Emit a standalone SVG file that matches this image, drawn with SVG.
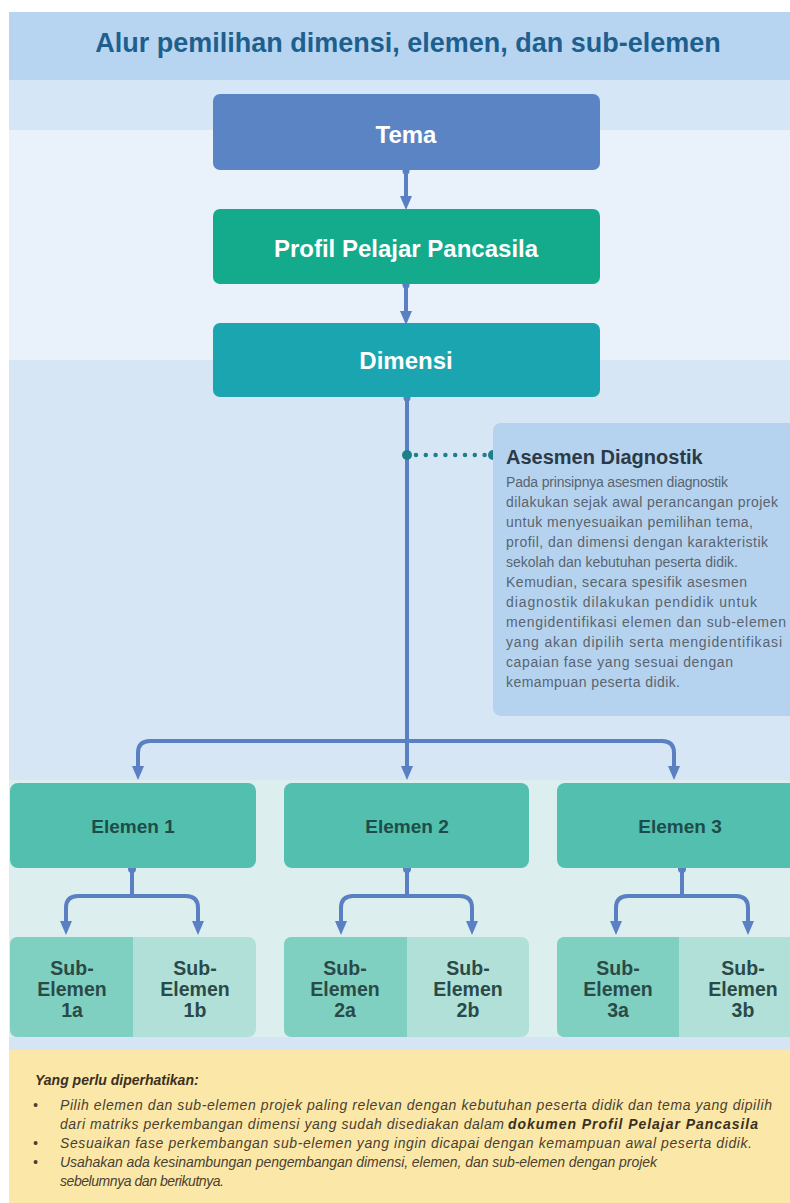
<svg xmlns="http://www.w3.org/2000/svg" width="790" height="1203" viewBox="0 0 790 1203">
<style>
.hdr{font-family:"Liberation Sans",Arial,sans-serif;font-weight:bold;font-size:27px;fill:#1e5f8e}
.top{font-family:"Liberation Sans",Arial,sans-serif;font-weight:bold;font-size:24px;fill:#ffffff}
.el{font-family:"Liberation Sans",Arial,sans-serif;font-weight:bold;font-size:19px;fill:#1d4d4a}
.sub{font-family:"Liberation Sans",Arial,sans-serif;font-weight:bold;font-size:19.5px;fill:#2a4a48}
.asT{font-family:"Liberation Sans",Arial,sans-serif;font-weight:bold;font-size:20px;fill:#2b3a47}
.asB{font-family:"Liberation Sans",Arial,sans-serif;font-size:14px;fill:#5a6470}
.noteT{font-family:"Liberation Sans",Arial,sans-serif;font-weight:bold;font-style:italic;font-size:14px;fill:#3a3020}
.note{font-family:"Liberation Sans",Arial,sans-serif;font-style:italic;font-size:14px;fill:#4a4030}
.noteB{font-family:"Liberation Sans",Arial,sans-serif;font-style:italic;font-weight:bold;font-size:14px;fill:#3a3020}
.conn{fill:none;stroke:#5a7fc3;stroke-width:4}
.dot{fill:#5a7fc3}
</style>
<defs>
<marker id="ah" markerUnits="userSpaceOnUse" markerWidth="14" markerHeight="12" viewBox="0 0 14 12" refX="6" refY="6" orient="auto">
<path d="M0,0 L14,6 L0,12 z" fill="#5a7fc3"/>
</marker>
</defs>

<!-- backgrounds -->
<rect x="0" y="0" width="790" height="1203" fill="#ffffff"/>
<rect x="9" y="12" width="781" height="68" fill="#b7d5f0"/>
<rect x="9" y="80" width="781" height="50" fill="#d5e6f6"/>
<rect x="9" y="130" width="781" height="230" fill="#e9f2fb"/>
<rect x="9" y="360" width="781" height="420" fill="#d6e6f5"/>
<rect x="9" y="780" width="781" height="257" fill="#dcefee"/>
<rect x="9" y="1037" width="781" height="13" fill="#d5e5f5"/>
<rect x="9" y="1050" width="781" height="153" fill="#fbe8a8"/>

<text class="hdr" x="408" y="52" text-anchor="middle">Alur pemilihan dimensi, elemen, dan sub-elemen</text>

<g id="connectors">
<path class="conn" d="M406,170 V202" marker-end="url(#ah)"/>
<path class="conn" d="M406,284 V317" marker-end="url(#ah)"/>
<path class="conn" d="M407,397 V772" marker-end="url(#ah)"/>
<path class="conn" d="M407,741 H150 Q138,741 138,753 V772" marker-end="url(#ah)"/>
<path class="conn" d="M407,741 H662 Q674,741 674,753 V772" marker-end="url(#ah)"/>
<circle class="dot" cx="406" cy="171" r="3.5"/>
<circle class="dot" cx="406" cy="285" r="3.5"/>
<circle class="dot" cx="407" cy="398" r="3.5"/>

<path class="conn" d="M132,868 V896 M132,896 H78 Q66,896 66,908 V927" marker-end="url(#ah)"/>
<path class="conn" d="M132,896 H186 Q198,896 198,908 V927" marker-end="url(#ah)"/>
<circle class="dot" cx="132" cy="869" r="4"/>

<path class="conn" d="M407,868 V896 M407,896 H353 Q341,896 341,908 V927" marker-end="url(#ah)"/>
<path class="conn" d="M407,896 H460 Q472,896 472,908 V927" marker-end="url(#ah)"/>
<circle class="dot" cx="407" cy="869" r="4"/>

<path class="conn" d="M682,868 V896 M682,896 H628 Q616,896 616,908 V927" marker-end="url(#ah)"/>
<path class="conn" d="M682,896 H736 Q748,896 748,908 V927" marker-end="url(#ah)"/>
<circle class="dot" cx="682" cy="869" r="4"/>

<line x1="416" y1="455" x2="485" y2="455" stroke="#1e7e8a" stroke-width="4.5" stroke-linecap="round" stroke-dasharray="0 9.8"/>
<circle cx="407" cy="455" r="5" fill="#1e7e8a"/>
<circle cx="493" cy="455" r="5" fill="#1e7e8a"/>
</g>

<g id="tema">
<rect x="213" y="94" width="387" height="76" rx="7" fill="#5b84c4"/>
<text class="top" x="406" y="143" text-anchor="middle">Tema</text>
</g>
<g id="profil">
<rect x="213" y="209" width="387" height="75" rx="7" fill="#13ab8c"/>
<text class="top" x="406" y="257" text-anchor="middle">Profil Pelajar Pancasila</text>
</g>
<g id="dimensi">
<rect x="213" y="323" width="387" height="74" rx="7" fill="#1ba5b0"/>
<text class="top" x="406" y="369" text-anchor="middle">Dimensi</text>
</g>

<g id="asesmen">
<rect x="493" y="423" width="310" height="293" rx="8" fill="#b5d3ef"/>
<text class="asT" x="506" y="464">Asesmen Diagnostik</text>
<text class="asB" x="506" y="487" textLength="222" lengthAdjust="spacing">Pada prinsipnya asesmen diagnostik</text>
<text class="asB" x="506" y="507" textLength="272" lengthAdjust="spacing">dilakukan sejak awal perancangan projek</text>
<text class="asB" x="506" y="527" textLength="247" lengthAdjust="spacing">untuk menyesuaikan pemilihan tema,</text>
<text class="asB" x="506" y="547" textLength="262" lengthAdjust="spacing">profil, dan dimensi dengan karakteristik</text>
<text class="asB" x="506" y="567" textLength="232" lengthAdjust="spacing">sekolah dan kebutuhan peserta didik.</text>
<text class="asB" x="506" y="587" textLength="241" lengthAdjust="spacing">Kemudian, secara spesifik asesmen</text>
<text class="asB" x="506" y="607" textLength="251" lengthAdjust="spacing">diagnostik dilakukan pendidik untuk</text>
<text class="asB" x="506" y="627" textLength="280" lengthAdjust="spacing">mengidentifikasi elemen dan sub-elemen</text>
<text class="asB" x="506" y="647" textLength="276" lengthAdjust="spacing">yang akan dipilih serta mengidentifikasi</text>
<text class="asB" x="506" y="667" textLength="227" lengthAdjust="spacing">capaian fase yang sesuai dengan</text>
<text class="asB" x="506" y="687" textLength="174" lengthAdjust="spacing">kemampuan peserta didik.</text>
</g>

<g id="elemen1">
<rect x="10" y="783" width="246" height="85" rx="8" fill="#53bfae"/>
<text class="el" x="133" y="833" text-anchor="middle">Elemen 1</text>
</g>
<g id="elemen2">
<rect x="284" y="783" width="245" height="85" rx="8" fill="#53bfae"/>
<text class="el" x="407" y="833" text-anchor="middle">Elemen 2</text>
</g>
<g id="elemen3">
<rect x="557" y="783" width="245" height="85" rx="8" fill="#53bfae"/>
<text class="el" x="680" y="833" text-anchor="middle">Elemen 3</text>
</g>

<g id="sub1">
<rect x="10" y="937" width="246" height="100" rx="8" fill="#b1e0d9"/>
<path d="M18,937 H133 V1037 H18 Q10,1037 10,1029 V945 Q10,937 18,937 z" fill="#80d0c1"/>
<text class="sub" text-anchor="middle"><tspan x="72" y="975">Sub-</tspan><tspan x="72" y="996">Elemen</tspan><tspan x="72" y="1017">1a</tspan></text>
<text class="sub" text-anchor="middle"><tspan x="195" y="975">Sub-</tspan><tspan x="195" y="996">Elemen</tspan><tspan x="195" y="1017">1b</tspan></text>
</g>
<g id="sub2">
<rect x="284" y="937" width="245" height="100" rx="8" fill="#b1e0d9"/>
<path d="M292,937 H407 V1037 H292 Q284,1037 284,1029 V945 Q284,937 292,937 z" fill="#80d0c1"/>
<text class="sub" text-anchor="middle"><tspan x="345" y="975">Sub-</tspan><tspan x="345" y="996">Elemen</tspan><tspan x="345" y="1017">2a</tspan></text>
<text class="sub" text-anchor="middle"><tspan x="468" y="975">Sub-</tspan><tspan x="468" y="996">Elemen</tspan><tspan x="468" y="1017">2b</tspan></text>
</g>
<g id="sub3">
<rect x="557" y="937" width="245" height="100" rx="8" fill="#b1e0d9"/>
<path d="M565,937 H679 V1037 H565 Q557,1037 557,1029 V945 Q557,937 565,937 z" fill="#80d0c1"/>
<text class="sub" text-anchor="middle"><tspan x="618" y="975">Sub-</tspan><tspan x="618" y="996">Elemen</tspan><tspan x="618" y="1017">3a</tspan></text>
<text class="sub" text-anchor="middle"><tspan x="743" y="975">Sub-</tspan><tspan x="743" y="996">Elemen</tspan><tspan x="743" y="1017">3b</tspan></text>
</g>

<g id="notes">
<text class="noteT" x="35" y="1085">Yang perlu diperhatikan:</text>
<text class="note" x="33" y="1110">•</text>
<text class="note" x="60" y="1110" textLength="712" lengthAdjust="spacing">Pilih elemen dan sub-elemen projek paling relevan dengan kebutuhan peserta didik dan tema yang dipilih</text>
<text class="note" x="60" y="1129" textLength="444" lengthAdjust="spacing">dari matriks perkembangan dimensi yang sudah disediakan dalam</text>
<text class="noteB" x="508" y="1129" textLength="250" lengthAdjust="spacing">dokumen Profil Pelajar Pancasila</text>
<text class="note" x="33" y="1148">•</text>
<text class="note" x="60" y="1148" textLength="692" lengthAdjust="spacing">Sesuaikan fase perkembangan sub-elemen yang ingin dicapai dengan kemampuan awal peserta didik.</text>
<text class="note" x="33" y="1167">•</text>
<text class="note" x="60" y="1167" textLength="597" lengthAdjust="spacing">Usahakan ada kesinambungan pengembangan dimensi, elemen, dan sub-elemen dengan projek</text>
<text class="note" x="60" y="1186" textLength="164" lengthAdjust="spacing">sebelumnya dan berikutnya.</text>
</g>
</svg>
